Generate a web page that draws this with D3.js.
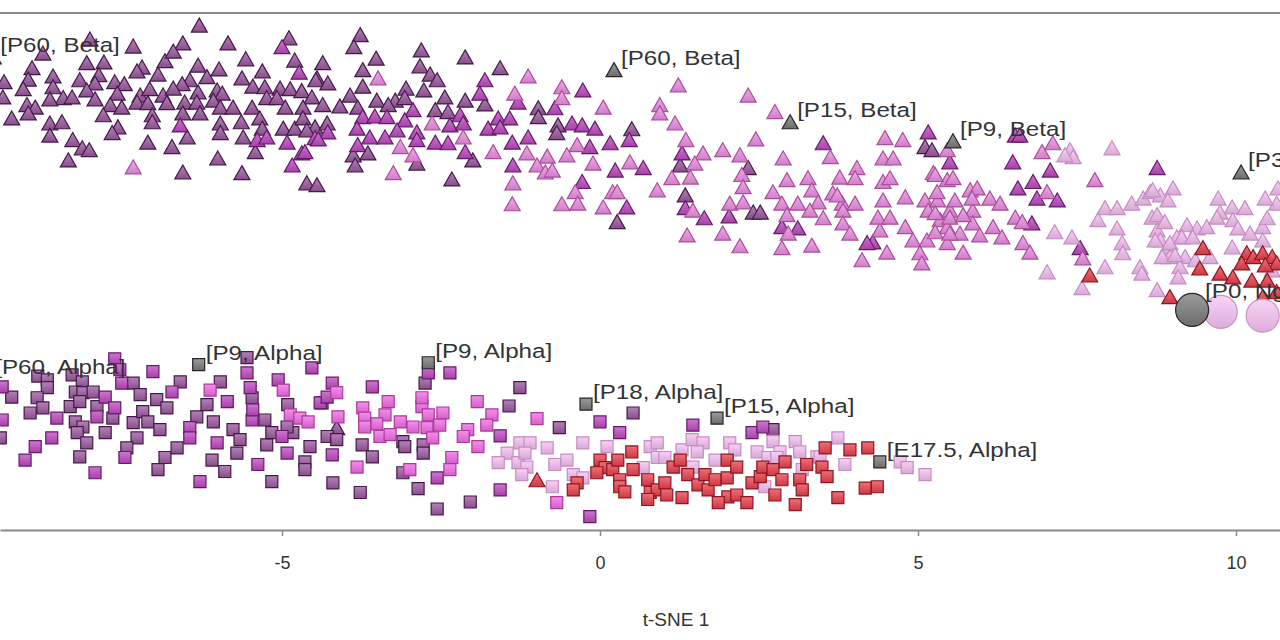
<!DOCTYPE html>
<html><head><meta charset="utf-8">
<script src="https://cdn.jsdelivr.net/npm/d3@7"></script>
<style>body{margin:0;background:#fff}svg{display:block}</style>
</head><body><svg id="chart" width="1280" height="640"></svg>
<script>
// ---------- DATA (t-SNE coordinates) ----------
const xTicks = [-5, 0, 5, 10];
const xTitle = "t-SNE 1";

const betaP60 = [
[-6.30,3.88],[-4.89,3.68],[-6.56,3.60],[-5.85,3.60],[-7.34,3.55],[-8.02,3.66],[-8.76,3.44],[-8.93,3.21],[-8.07,3.29],[-7.80,3.30],
[-7.20,3.22],[-7.28,3.16],[-6.95,3.11],[-6.84,3.32],[-6.71,3.47],[-6.32,3.25],[-5.99,3.19],[-5.57,3.35],[-5.31,3.16],[-4.80,3.33],
[-4.45,3.05],[-5.63,3.05],[-6.18,3.07],[-6.45,3.02],[-6.57,2.96],[-8.60,3.08],[-8.99,3.03],[-9.37,2.99],[-9.07,2.88],[-9.39,2.75],
[-8.60,2.91],[-8.18,3.02],[-7.88,3.10],[-7.94,2.97],[-8.07,2.86],[-7.63,2.99],[-7.48,2.96],[-7.59,2.81],[-7.23,2.78],[-7.08,2.88],
[-6.87,2.78],[-6.71,2.89],[-6.32,2.83],[-6.02,2.86],[-5.94,2.81],[-5.46,2.92],[-5.27,2.91],[-5.03,2.89],[-4.87,2.88],[-4.69,2.85],
[-4.53,2.75],[-8.44,2.74],[-8.30,2.75],[-8.65,2.72],[-7.94,2.72],[-7.70,2.63],[-7.52,2.59],[-7.28,2.67],[-7.11,2.66],[-6.81,2.66],
[-6.53,2.67],[-6.34,2.67],[-6.08,2.70],[-5.97,2.59],[-5.77,2.59],[-5.47,2.59],[-5.24,2.74],[-5.08,2.74],[-4.95,2.59],[-4.67,2.59],
[-9.01,2.63],[-8.88,2.59],[-8.99,2.50],[-7.81,2.47],[-7.04,2.47],[-6.56,2.50],[-6.29,2.50],[-9.25,2.42],[-8.65,2.34],[-8.46,2.36],
[-7.58,2.28],[-7.67,2.19],[-7.04,2.36],[-5.97,2.34],[-5.97,2.19],[-5.64,2.36],[-5.35,2.42],[-5.31,2.26],[-4.98,2.26],[-4.80,2.26],
[-4.67,2.42],[-4.48,2.28],[-8.65,2.15],[-8.29,2.08],[-8.14,1.95],[-8.03,1.92],[-7.11,2.04],[-6.73,1.97],[-6.49,2.12],[-5.61,2.12],
[-5.42,1.89],[-8.36,1.76],[-6.01,1.79],[-6.56,1.57],[-5.63,1.56],[-4.61,1.40],[-4.45,1.37],
[-3.77,3.73],[-3.87,3.54],[-2.81,3.49],[-2.12,3.38],[-3.52,3.36],[-4.36,3.29],[-1.57,3.21],[-3.73,3.18],[-2.83,3.24],[-2.67,3.11],
[-2.56,3.02],[-4.47,3.02],[-4.28,2.97],[-3.73,2.92],[-3.05,2.89],[-2.77,2.86],[-3.93,2.78],[-3.51,2.70],[-3.22,2.70],[-3.07,2.74],
[-2.44,2.75],[-2.12,2.70],[-1.81,2.64],[-4.09,2.61],[-3.81,2.59],[-3.33,2.63],[-4.36,2.63],[-2.59,2.55],[-2.39,2.52],[-0.97,2.58],
[-0.97,2.44],[-4.29,2.34],[-0.66,2.31],[-4.61,2.23],[-0.68,2.19],[-3.88,1.84],[-3.65,1.87],[-2.00,1.76],[-3.85,1.68],[-2.88,1.71],
[-2.33,1.46],
[0.50,2.25],[5.11,1.97],[1.26,1.68],[2.33,1.64],[2.41,0.94],[2.52,0.94],[0.27,0.79],[1.34,1.21],[5.22,1.92],
[-4.14,-2.45]
];
const betaP18 = [
[-5.00,3.54],[-4.73,3.14],[-6.60,2.31],[-5.39,2.08],[-5.24,2.12],[-4.92,2.04],[-4.48,2.11],[-4.69,1.87],[-4.84,1.68],
[-1.81,3.02],[-0.27,2.86],[-1.89,2.81],[-1.29,2.67],[-2.94,2.55],[-2.20,2.47],[-0.71,2.58],[-1.60,2.42],[-1.42,2.42],[-3.73,2.44],
[-3.54,2.45],[-3.35,2.44],[-3.07,2.39],[-2.36,2.31],[-2.15,2.34],[-1.76,2.26],[-1.57,2.28],[-0.44,2.34],[-0.28,2.31],[-0.08,2.26],
[-4.28,2.20],[-3.82,2.26],[-3.19,2.23],[-2.88,2.20],[-4.43,2.09],[-3.62,2.12],[-3.38,2.12],[-2.88,2.08],[-2.59,2.04],[-2.39,2.03],
[-1.38,2.04],[-1.13,2.12],[-0.16,1.97],[-4.64,1.89],[-3.81,2.00],[-2.12,1.89],[-1.37,1.68],[0.24,1.60],[-0.28,1.42],[0.46,2.08],
[0.16,2.03],[3.51,2.03],[5.16,2.20],[1.29,1.87],[0.68,1.64],[1.34,1.01],[1.64,0.85],[2.03,0.88],[2.86,0.71],[3.11,0.69],
[4.29,0.47],[4.20,0.46],[0.42,1.02],[6.53,2.15],[6.60,2.15],[5.50,1.73],[6.49,1.73],[7.08,1.60],[8.76,1.64],[6.57,1.32],
[6.81,1.42],[6.87,1.16],[7.19,1.13],[6.79,0.77],[7.55,0.38]
];
const betaP9 = [
[-7.34,1.65],[-3.49,3.05],[-1.13,3.08],[-0.60,2.91],[-1.34,2.81],[-0.60,2.74],[0.05,2.59],[-2.64,2.34],[-2.15,2.12],[-0.36,2.00],
[-3.14,1.97],[-1.68,1.89],[-1.15,1.87],[-0.83,1.82],[-0.52,1.84],[-2.94,1.84],[-0.11,1.71],[-0.99,1.68],[-0.86,1.57],[-0.75,1.60],
[-3.25,1.56],[-1.37,1.40],[-0.39,1.26],[-0.60,1.07],[-0.35,1.08],[0.05,1.02],[-1.38,1.07],[0.20,1.26],
[1.23,2.94],[2.33,2.78],[0.94,2.63],[0.94,2.50],[2.75,2.52],[1.18,2.34],[1.35,2.08],[2.45,2.09],[4.48,2.11],[4.76,2.08],
[1.62,1.87],[1.93,1.92],[2.20,1.84],[3.62,1.81],[2.88,1.79],[4.45,1.79],[4.61,1.79],[0.47,1.73],[1.49,1.71],[2.23,1.53],
[4.04,1.64],[3.77,1.49],[5.24,1.56],[1.13,1.48],[1.42,1.49],[2.94,1.45],[3.27,1.48],[4.01,1.48],[4.45,1.42],[4.56,1.48],
[0.27,1.26],[0.90,1.29],[2.25,1.34],[2.72,1.26],[3.33,1.29],[3.66,1.24],[4.45,1.13],[4.80,1.18],[5.11,1.13],[1.46,0.97],
[2.04,1.08],[2.25,1.10],[2.86,1.08],[3.11,1.08],[3.43,1.10],[3.81,1.08],[4.01,1.08],[2.94,0.90],[2.96,0.61],[1.37,0.58],
[1.93,0.61],[2.20,0.41],[2.86,0.38],[3.33,0.42],[3.30,0.97],[3.51,0.85],[3.73,1.21],[3.82,0.97],[3.82,0.77],[3.93,0.61],
[4.12,0.19],[4.40,0.66],[4.51,0.31],[4.37,0.86],[4.56,0.86],[4.80,0.71],[4.92,0.50],[5.14,0.50],[5.03,0.30],[5.06,0.14],
[5.16,0.97],[5.31,1.13],[5.35,0.82],[5.46,0.71],[5.50,0.97],[5.46,0.46],[5.66,0.61],[5.71,0.31],[5.46,1.45],
[5.82,1.29],[5.86,0.97],[5.86,0.77],[5.46,1.92],[6.95,1.89],[7.12,2.03],[5.27,1.53],[5.55,1.48],[7.78,1.45],[5.93,1.32],
[7.03,1.26],[5.30,1.26],[5.58,1.13],[5.85,1.16],[6.13,1.16],[6.29,1.08],[5.50,0.86],[5.71,0.90],[5.27,0.93],[5.27,0.63],
[5.50,0.61],[5.97,0.58],[6.18,0.71],[6.32,0.55],[6.53,0.86],[6.64,0.79],[6.65,0.46],[6.76,0.31],[7.59,0.22]
];
const betaP3 = [
[7.39,1.92],[7.44,1.81],[7.31,1.84],[8.05,1.95],[7.94,1.01],[8.13,1.01],[8.36,1.08],[8.54,1.16],[8.65,1.26],[8.81,1.21],
[9.01,1.32],[8.93,1.13],[9.72,1.16],[9.94,1.02],[10.14,1.01],[10.66,1.32],[9.75,0.94],[7.15,0.63],[7.42,0.55],[7.83,0.82],
[8.13,0.69],[8.21,0.46],[8.22,0.30],[8.49,0.08],[8.52,-0.02],[8.68,0.86],[8.76,0.66],[8.81,0.50],[8.92,0.39],[9.07,0.55],
[9.23,0.74],[9.39,0.69],[9.54,0.71],[9.70,0.86],[9.95,0.82],[10.22,0.61],[10.42,0.71],[10.49,0.85],[10.64,1.08],[8.96,0.24],
[9.20,0.24],[9.12,0.08],[9.36,0.19],[9.09,-0.08],[9.59,0.24],[10.57,0.03],[8.76,-0.28],[7.94,0.08],[7.58,-0.25],[7.03,0.00],
[8.69,1.29],[10.46,1.16],[8.76,0.90],[8.88,0.79],[10.03,0.69],[8.73,0.50],[8.96,0.46],[9.15,0.55],[9.32,0.55],[9.94,0.39],
[10.42,0.50],[8.84,0.24],[9.04,0.27]
];
const betaE175 = [
[9.48,0.38],[9.43,0.06],[9.75,-0.02],[9.95,-0.08],[10.17,0.30],[10.09,0.14],[10.27,0.24],[10.42,0.30],[10.57,0.24],[10.25,-0.13],
[10.49,-0.13],[10.64,0.14],[8.96,-0.39],[7.70,-0.05],[10.42,-0.39],[10.46,0.11],[10.64,-0.31],[-0.99,-3.27]
];
const nonP0 = [[9.76,-0.63],[10.42,-0.69]];

const alphaP60 = [
[-5.55,-1.35],[-8.84,-1.64],[-8.69,-1.70],[-8.30,-1.62],[-8.14,-1.73],[-8.25,-1.89],[-8.13,-1.90],[-7.97,-1.89],[-7.34,-1.75],[-7.23,-1.93],
[-6.60,-1.73],[-6.97,-2.01],[-6.81,-2.14],[-5.97,-1.73],[-5.47,-1.98],[-4.91,-2.09],[-8.69,-1.82],[-8.85,-1.98],[-9.25,-1.97],[-8.76,-2.14],
[-8.33,-2.12],[-8.18,-2.04],[-7.91,-2.12],[-8.96,-2.22],[-8.25,-2.36],[-8.13,-2.44],[-7.66,-2.30],[-7.78,-2.53],[-8.22,-2.53],[-8.07,-2.69],
[-7.34,-2.37],[-7.19,-2.20],[-7.11,-2.36],[-6.92,-2.48],[-7.28,-2.61],[-7.44,-2.77],[-6.84,-2.92],[-6.65,-2.77],[-6.95,-3.11],[-6.34,-2.28],
[-6.18,-2.09],[-6.08,-2.36],[-6.10,-2.96],[-5.90,-3.14],[-5.77,-2.48],[-5.66,-2.64],[-5.71,-2.85],[-5.27,-2.33],[-5.24,-2.72],[-5.16,-2.53],
[-4.83,-2.53],[-4.92,-2.44],[-4.64,-2.99],[-4.64,-3.11],[-5.16,-3.30],[-8.18,-2.91],[-9.43,-2.61],[-2.75,-1.75],[-4.37,-2.06],[-4.29,-2.59],
[-4.14,-2.64],[-3.74,-2.72],[-3.10,-2.67],[-3.07,-2.75],[-2.78,-2.72],[-2.78,-2.85],[-3.58,-2.91],[-4.56,-2.75],[-3.10,-3.16],[-4.20,-3.32],
[-3.77,-3.47],[-2.86,-3.41],[-2.56,-3.73],[-2.04,-3.62],[-1.26,-1.82],[-1.43,-2.11],[-0.64,-2.45],[0.52,-2.22],[2.72,-2.48]
];
const alphaP18 = [
[-7.63,-1.37],[-7.55,-1.54],[-7.03,-1.57],[-4.53,-1.51],[-5.55,-1.59],[-7.52,-1.75],[-6.73,-1.89],[-5.86,-2.04],[-5.50,-1.82],[-5.06,-1.70],
[-4.40,-2.06],[-9.40,-1.81],[-7.78,-1.97],[-7.63,-2.14],[-8.54,-2.30],[-7.91,-2.28],[-7.47,-2.92],[-6.45,-2.45],[-6.45,-2.61],[-6.02,-2.69],
[-6.29,-3.30],[-5.47,-2.33],[-5.46,-2.17],[-5.00,-2.59],[-4.92,-2.85],[-5.38,-3.03],[-7.94,-3.16],[-8.88,-2.75],[-8.62,-2.61],[-9.04,-2.96],
[-9.40,-2.33],[-2.70,-1.59],[-2.36,-1.59],[-4.21,-1.75],[-4.29,-1.97],[-3.58,-1.81],[-1.57,-2.58],[0.00,-2.36],[-4.21,-2.88],[-2.56,-3.24],
[-1.57,-3.43],[-0.16,-3.85],[1.46,-2.41],[0.31,-2.53],[2.39,-2.53],[2.56,-2.44]
];
const alphaP15 = [
[-6.13,-1.86],[-4.98,-1.86],[-4.87,-2.25],[-4.72,-2.30],[-4.59,-2.36],[-4.14,-1.90],[-3.33,-2.04],[-3.73,-2.14],[-3.38,-2.25],[-3.51,-2.39],
[-3.70,-2.30],[-3.70,-2.44],[-3.14,-2.36],[-2.94,-2.44],[-2.72,-2.45],[-2.80,-2.12],[-2.80,-1.98],[-2.70,-2.25],[-2.47,-2.22],[-2.52,-2.41],
[-3.46,-2.59],[-3.30,-2.56],[-2.63,-2.61],[-1.93,-2.04],[-1.70,-2.25],[-1.78,-2.41],[-2.08,-2.48],[-2.15,-2.59],[-1.92,-2.75],[-0.99,-2.31],
[-4.12,-2.28],[-3.82,-3.07],[-2.99,-3.11],[-2.33,-2.92],[-2.36,-3.11],[-0.68,-3.63]
];
const alphaP3 = [
[-1.26,-2.69],[-1.10,-2.69],[-1.46,-2.85],[-1.60,-3.00],[-1.29,-3.00],[-1.18,-2.85],[-1.15,-3.07],[-1.23,-3.19],[-0.83,-2.77],[-0.71,-3.03],
[-0.52,-2.96],[-0.75,-3.38],[-0.27,-2.69],[-0.42,-3.19],[-0.27,-3.24],[0.11,-2.75],[0.79,-2.75],[0.90,-2.69],[1.29,-2.80],[1.45,-2.64],
[1.62,-2.69],[1.53,-2.83],[2.04,-2.69],[2.12,-2.80],[2.47,-2.83],[2.72,-2.67],[2.83,-2.83],[3.07,-2.67],[3.14,-2.83],[3.41,-2.91],
[3.74,-2.61],[3.85,-3.03],[4.72,-2.99],[4.83,-3.08],[5.11,-3.19],[0.90,-2.92],[1.02,-2.92],[0.68,-3.08],[1.31,-3.07],[1.81,-2.96],
[2.64,-2.92],[2.78,-2.92],[3.18,-3.11],[3.46,-2.91],[1.46,-3.07],[2.59,-3.38]
];
const alphaE175 = [
[-0.36,-3.32],[-0.42,-3.43],[0.00,-2.96],[0.08,-3.08],[-0.05,-3.16],[0.20,-3.11],[0.31,-3.27],[0.28,-2.96],[0.50,-2.83],[0.52,-3.11],
[0.31,-3.38],[0.39,-3.46],[0.75,-3.27],[0.79,-3.47],[0.90,-3.43],[1.02,-3.32],[1.05,-3.51],[0.75,-3.58],[1.29,-3.55],[1.15,-3.07],
[1.26,-2.96],[1.38,-3.19],[1.54,-3.35],[1.70,-3.43],[1.65,-3.19],[1.81,-3.27],[2.00,-3.24],[2.01,-3.54],[1.86,-3.63],[2.15,-3.51],
[2.31,-3.63],[2.00,-2.96],[2.15,-3.07],[2.39,-3.32],[2.52,-3.22],[2.56,-3.07],[2.72,-3.11],[2.75,-3.51],[2.86,-3.27],[2.91,-2.99],
[3.07,-3.66],[3.14,-3.27],[3.18,-3.43],[3.25,-3.03],[3.49,-3.07],[3.57,-3.22],[3.54,-2.77],[3.74,-3.55],[3.93,-2.80],[4.21,-2.77],
[4.17,-3.40],[4.36,-3.38]
];

// highlighted (grey) cells with their labels: [t-SNE 1, t-SNE 2, label, cell type]
const annotated = [
[-9.54, 3.38, "[P60, Beta]", "beta"],
[0.22, 3.18, "[P60, Beta]", "beta"],
[2.99, 2.36, "[P15, Beta]", "beta"],
[5.55, 2.06, "[P9, Beta]", "beta"],
[10.08, 1.57, "[P3, Beta]", "beta"],
[9.31, -0.60, "[P0, Ngn3]", "non"],
[-9.62, -1.68, "[P60, Alpha]", "alpha"],
[-6.31, -1.46, "[P9, Alpha]", "alpha"],
[-2.70, -1.43, "[P9, Alpha]", "alpha"],
[-0.22, -2.08, "[P18, Alpha]", "alpha"],
[1.84, -2.30, "[P15, Alpha]", "alpha"],
[4.40, -2.99, "[E17.5, Alpha]", "alpha"]
];

// ---------- STYLE / LAYOUT ----------
const W = 1280, H = 640;
const plot = {left: 0, right: 1280, top: 13, bottom: 530};
const styles = {
  P60:  {fill: "#9b5a9f", stroke: "#44184a"},
  P18:  {fill: "#bd48c0", stroke: "#641a68"},
  P15:  {fill: "#f26ae6", stroke: "#a83a98"},
  P9:   {fill: "#ec8ee4", stroke: "#a84f98"},
  P3:   {fill: "#f5bff3", stroke: "#c68cc2"},
  P0:   {fill: "#f8c4f6", stroke: "#c596c2"},
  E175: {fill: "#e8404c", stroke: "#8e1620"},
  grey: {fill: "#7a7a7a", stroke: "#262626"}
};
const series = [
  {data: betaP60,  key: "P60",  type: "beta"},
  {data: alphaP60, key: "P60",  type: "alpha"},
  {data: betaP18,  key: "P18",  type: "beta"},
  {data: alphaP18, key: "P18",  type: "alpha"},
  {data: alphaP15, key: "P15",  type: "alpha"},
  {data: betaP9,   key: "P9",   type: "beta"},
  {data: betaP3,   key: "P3",   type: "beta"},
  {data: alphaP3,  key: "P3",   type: "alpha"},
  {data: betaE175, key: "E175", type: "beta"},
  {data: alphaE175,key: "E175", type: "alpha"},
  {data: nonP0,    key: "P0",   type: "non"}
];
const shapes = {
  beta: "M0,-7L8,7L-8,7Z",
  alpha: "M-6,-6H6V6H-6Z",
  non: d3.arc()({innerRadius: 0, outerRadius: 16.5, startAngle: 0, endAngle: 2 * Math.PI})
};

const x = d3.scaleLinear().domain([-9.434, 10.692]).range([plot.left, plot.right]);
const y = d3.scaleLinear().domain([-4.06, 4.07]).range([plot.bottom, plot.top]);

const svg = d3.select("#chart");
svg.append("rect").attr("width", W).attr("height", H).attr("fill", "#fff");

const defs = svg.append("defs");
Object.entries(styles).forEach(([k, s]) => {
  const g = defs.append("linearGradient").attr("id", "grad-" + k)
    .attr("x1", 0).attr("y1", 0).attr("x2", 0).attr("y2", 1);
  g.append("stop").attr("offset", "0%").attr("stop-color", d3.interpolateRgb(s.fill, "#fff")(0.25));
  g.append("stop").attr("offset", "100%").attr("stop-color", d3.color(s.fill).darker(0.35));
});

// frame line at the top
svg.append("line").attr("x1", plot.left).attr("x2", plot.right)
  .attr("y1", plot.top).attr("y2", plot.top)
  .attr("stroke", "#8a8a8a").attr("stroke-width", 2);

const pts = svg.append("g");
series.forEach(s => {
  pts.append("g").selectAll("path").data(s.data).join("path")
    .attr("d", shapes[s.type])
    .attr("transform", d => `translate(${x(d[0])},${y(d[1])})`)
    .attr("fill", `url(#grad-${s.key})`)
    .attr("stroke", styles[s.key].stroke)
    .attr("stroke-width", 1.2);
});

// x axis
const xAxis = svg.append("g").attr("transform", `translate(0,${plot.bottom})`)
  .call(d3.axisBottom(x).tickValues(xTicks).tickSize(6).tickSizeOuter(0).tickPadding(20)
        .tickFormat(d3.format("d")));
xAxis.select(".domain").attr("stroke", "#8a8a8a").attr("stroke-width", 2);
xAxis.selectAll(".tick line").attr("stroke", "#8a8a8a").attr("stroke-width", 1.5);
xAxis.selectAll(".tick text").attr("fill", "#333")
  .style("font-family", "'Liberation Sans', Arial, sans-serif").style("font-size", "18px")
  .text(d => d < 0 ? "-" + Math.abs(d) : d);

svg.append("text").attr("x", 676).attr("y", 626).attr("text-anchor", "middle")
  .attr("fill", "#333").style("font-family", "'Liberation Sans', Arial, sans-serif")
  .style("font-size", "19px").text(xTitle);

// annotated grey cells
const ann = svg.append("g");
annotated.forEach(a => {
  const px = x(a[0]), py = y(a[1]);
  ann.append("path").attr("d", shapes[a[3]])
    .attr("transform", `translate(${px},${py})`)
    .attr("fill", "url(#grad-grey)").attr("stroke", styles.grey.stroke).attr("stroke-width", 1.2);
  const off = a[3] === "non" ? [13, -12] : [7, -5];
  ann.append("text")
    .attr("transform", `translate(${px + off[0]},${py + off[1]}) scale(1.24,1)`)
    .attr("fill", "#333")
    .style("font-family", "'Liberation Sans', Arial, sans-serif").style("font-size", "19.5px")
    .text(a[2]);
});
</script></body></html>
